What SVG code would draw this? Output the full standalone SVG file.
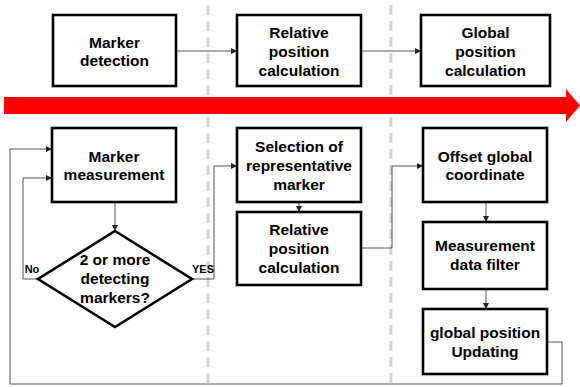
<svg xmlns="http://www.w3.org/2000/svg" width="580" height="387" viewBox="0 0 580 387">
<defs>
<style>
.box{fill:#fff;stroke:#000;stroke-width:2.6}
.t{font-family:"Liberation Sans",Arial,sans-serif;font-weight:bold;font-size:15.5px;fill:#000;text-anchor:middle}
.s{font-family:"Liberation Sans",Arial,sans-serif;font-weight:bold;font-size:11px;fill:#000;text-anchor:middle}
.c{fill:none;stroke:#555;stroke-width:1}
.dash{stroke:#d4d4d4;stroke-width:3;stroke-dasharray:10 6}
</style>
<marker id="ah" viewBox="0 0 6 6" refX="6" refY="3" markerWidth="6" markerHeight="6" markerUnits="userSpaceOnUse" orient="auto">
<path d="M0,0 L6,3 L0,6 Z" fill="#222"/>
</marker>
</defs>
<rect width="580" height="387" fill="#fff"/>
<g id="lanes">
<line class="dash" x1="208" y1="5" x2="208" y2="387"/>
<line class="dash" x1="391" y1="5" x2="391" y2="387"/>
</g>
<g id="timeline">
<path d="M4,97 L566,97 L566,89 L580,105.5 L566,122 L566,114 L4,114 Z" fill="#ff0000"/>
</g>
<g id="connectors">
<line class="c" x1="176" y1="51" x2="237" y2="51" marker-end="url(#ah)"/>
<line class="c" x1="361" y1="51" x2="421" y2="51" marker-end="url(#ah)"/>
<line class="c" x1="115" y1="202" x2="115" y2="231" marker-end="url(#ah)"/>
<polyline class="c" points="38,279 23,279 23,178 52,178" marker-end="url(#ah)"/>
<polyline class="c" points="192,279 214,279 214,166 237,166" marker-end="url(#ah)"/>
<line class="c" x1="299" y1="202" x2="299" y2="212" marker-end="url(#ah)"/>
<polyline class="c" points="361,248 392,248 392,166 423,166" marker-end="url(#ah)"/>
<line class="c" x1="486" y1="202" x2="486" y2="222" marker-end="url(#ah)"/>
<line class="c" x1="486" y1="289" x2="486" y2="309" marker-end="url(#ah)"/>
<polyline class="c" points="547,342 562,342 562,384 10,384 10,149 52,149" marker-end="url(#ah)"/>
<text class="s" x="32" y="273">No</text>
<text class="s" x="203" y="273">YES</text>
</g>
<g id="marker-detection">
<rect class="box" x="53" y="15" width="123" height="71"/>
<text class="t" x="114.5" y="48">Marker</text>
<text class="t" x="114.5" y="66">detection</text>
</g>
<g id="relative-top">
<rect class="box" x="237" y="15" width="124" height="71"/>
<text class="t" x="299" y="38">Relative</text>
<text class="t" x="299" y="57">position</text>
<text class="t" x="299" y="76">calculation</text>
</g>
<g id="global-calc">
<rect class="box" x="421" y="15" width="129" height="71"/>
<text class="t" x="485.5" y="38">Global</text>
<text class="t" x="485.5" y="57">position</text>
<text class="t" x="485.5" y="76">calculation</text>
</g>
<g id="marker-measurement">
<rect class="box" x="52" y="128" width="124" height="74"/>
<text class="t" x="114" y="162">Marker</text>
<text class="t" x="114" y="180">measurement</text>
</g>
<g id="decision">
<polygon class="box" points="115,231 192,279 115,327 38,279"/>
<text class="t" x="115" y="265">2 or more</text>
<text class="t" x="115" y="284">detecting</text>
<text class="t" x="115" y="303">markers?</text>
</g>
<g id="selection">
<rect class="box" x="237" y="128" width="124" height="74"/>
<text class="t" x="299" y="152">Selection of</text>
<text class="t" x="299" y="171">representative</text>
<text class="t" x="299" y="190">marker</text>
</g>
<g id="relative-bottom">
<rect class="box" x="237" y="212" width="124" height="73"/>
<text class="t" x="299" y="235">Relative</text>
<text class="t" x="299" y="254">position</text>
<text class="t" x="299" y="273">calculation</text>
</g>
<g id="offset">
<rect class="box" x="423" y="128" width="124" height="74"/>
<text class="t" x="485" y="162">Offset global</text>
<text class="t" x="485" y="180">coordinate</text>
</g>
<g id="filter">
<rect class="box" x="423" y="222" width="124" height="67"/>
<text class="t" x="485" y="251">Measurement</text>
<text class="t" x="485" y="270">data filter</text>
</g>
<g id="updating">
<rect class="box" x="423" y="309" width="124" height="65"/>
<text class="t" x="485" y="338">global position</text>
<text class="t" x="485" y="357">Updating</text>
</g>
</svg>
